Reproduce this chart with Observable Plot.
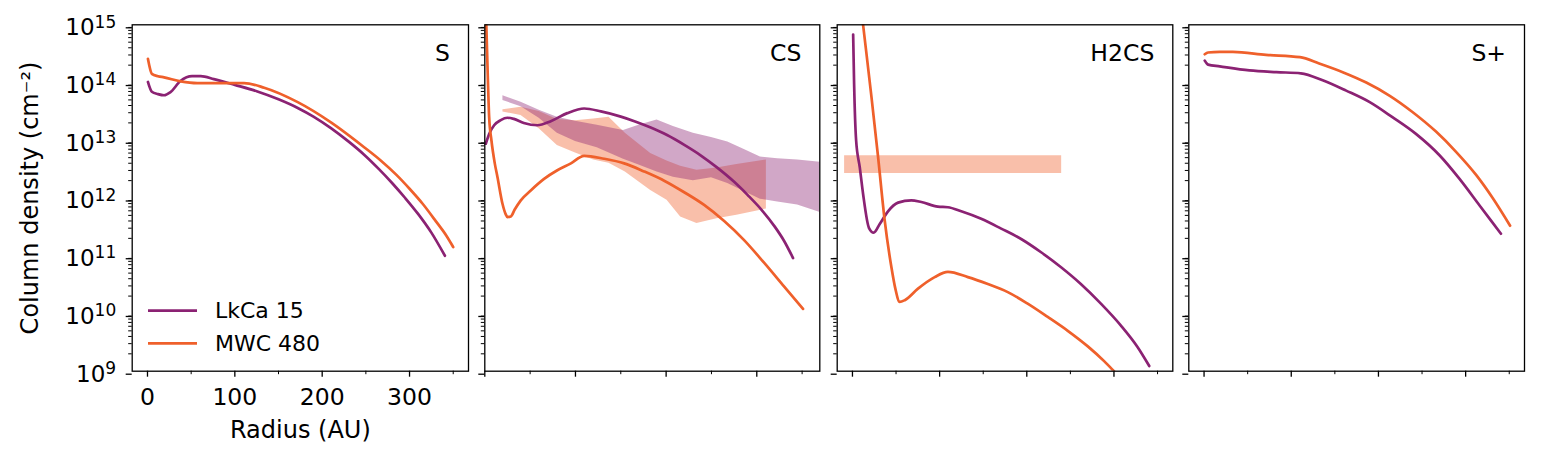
<!DOCTYPE html>
<html>
<head>
<meta charset="utf-8">
<script src="https://cdn.jsdelivr.net/npm/d3@7"></script>
<script src="https://cdn.jsdelivr.net/npm/@observablehq/plot@0.6"></script>
<style>
  html, body { margin: 0; padding: 0; background: #fff; }
  #fig { position: relative; width: 1547px; height: 458px; font-family: "DejaVu Sans", sans-serif; color: #000; }
  #fig > svg { position: absolute; top: 0; overflow: visible; }
</style>
</head>
<body>
<div id="fig"></div>
<script>
// Column densities are stored as log10(N / cm^-2) against radius in AU.
const LKCA = "LkCa 15";
const MWC = "MWC 480";
const sourceColor = { [LKCA]: "#8b2273", [MWC]: "#ef602b" };

// --- S ---
const sLkcaR    = [0.5, 5, 12, 19, 26, 38, 51, 61, 76, 100, 125, 150, 172, 190, 210, 230, 248, 265, 280, 295, 310, 325, 340.5];
const sLkcaLogN = [14.01, 13.84, 13.80, 13.78, 13.83, 14.03, 14.11, 14.11, 14.06, 13.96, 13.85, 13.71, 13.56, 13.41, 13.21, 12.98, 12.75, 12.50, 12.26, 12.00, 11.72, 11.40, 11.0];
const sMwcR     = [0.5, 2, 5, 12, 19, 38, 57, 80, 110.6, 133.6, 172, 210, 248, 267, 285, 300, 315, 330, 342, 350];
const sMwcLogN  = [14.41, 14.30, 14.15, 14.11, 14.09, 14.02, 13.99, 13.99, 13.99, 13.91, 13.66, 13.31, 12.88, 12.65, 12.40, 12.16, 11.90, 11.60, 11.35, 11.15];

// --- CS ---
const csLkcaR    = [1.1, 4.8, 10.3, 17.6, 25, 32, 43, 58, 72.8, 91, 109.6, 128, 150, 165, 183, 201, 220, 238, 256, 275, 290, 305, 320, 330, 340];
const csLkcaLogN = [12.94, 13.11, 13.26, 13.35, 13.39, 13.37, 13.30, 13.26, 13.33, 13.47, 13.55, 13.50, 13.41, 13.33, 13.22, 13.09, 12.92, 12.74, 12.53, 12.28, 12.05, 11.80, 11.50, 11.26, 10.96];
const csMwcR     = [1.0, 1.8, 3, 4.8, 7.3, 11, 14, 19.5, 23, 25, 28.7, 33, 39.7, 50.7, 65.4, 80, 95, 109.6, 131.6, 153.7, 175.7, 197.8, 219.9, 241.9, 264, 286, 308, 330, 351];
const csMwcLogN  = [15.3, 14.93, 14.27, 13.4, 13.0, 12.6, 12.36, 11.9, 11.72, 11.67, 11.68, 11.8, 11.96, 12.13, 12.33, 12.48, 12.6, 12.73, 12.68, 12.6, 12.46, 12.3, 12.1, 11.88, 11.6, 11.27, 10.88, 10.47, 10.08];

// CS observed ranges
const csLkcaBandR  = [20, 40, 60, 80, 100, 124, 153, 170, 190, 208, 230, 250, 268, 285, 304, 323, 345, 370];
const csLkcaBandHi = [13.77, 13.66, 13.52, 13.40, 13.33, 13.26, 13.17, 13.26, 13.35, 13.24, 13.12, 13.05, 12.97, 12.85, 12.71, 12.68, 12.66, 12.62];
const csLkcaBandLo = [13.69, 13.58, 13.38, 13.12, 12.98, 12.87, 12.67, 12.57, 12.45, 12.36, 12.30, 12.35, 12.25, 12.12, 11.98, 11.93, 11.88, 11.75];
const csMwcBandR   = [20, 40, 60, 80, 100, 120, 137, 155, 183, 201, 216, 234, 256, 278, 310.6];
const csMwcBandHi  = [13.53, 13.57, 13.50, 13.36, 13.34, 13.37, 13.40, 13.12, 12.77, 12.64, 12.55, 12.48, 12.52, 12.58, 12.66];
const csMwcBandLo  = [13.49, 13.43, 13.20, 12.91, 12.78, 12.66, 12.60, 12.45, 12.13, 11.96, 11.67, 11.56, 11.64, 11.70, 11.81];

// --- H2CS ---
const h2csLkcaR    = [0.8, 1.9, 4.2, 8.4, 12.2, 19, 24.4, 31.3, 40.8, 52.3, 67.6, 79, 98, 109.5, 124.8, 147.7, 170.6, 193.5, 216.4, 239.3, 262, 285, 308, 327, 340.5];
const h2csLkcaLogN = [14.83, 13.98, 13.0, 12.53, 12.07, 11.48, 11.4, 11.55, 11.77, 11.92, 11.96, 11.93, 11.85, 11.84, 11.77, 11.64, 11.47, 11.29, 11.06, 10.8, 10.51, 10.17, 9.79, 9.42, 9.09];
const h2csMwcR     = [0.8, 12.2, 21.8, 29.4, 37, 44.7, 49.2, 54.2, 60, 75.2, 94.3, 109.5, 132.4, 155.3, 178.2, 201, 224, 247, 270, 289, 300, 320];
const h2csMwcLogN  = [16.5, 15.0, 13.75, 12.71, 11.61, 10.8, 10.43, 10.2, 10.23, 10.43, 10.63, 10.72, 10.63, 10.51, 10.37, 10.17, 9.94, 9.70, 9.43, 9.17, 9.0, 8.68];
const h2csMwcBandR  = [-9, 240];
const h2csMwcBandHi = [12.73, 12.73];
const h2csMwcBandLo = [12.425, 12.425];

// --- S+ ---
const spLkcaR    = [0.8, 4.6, 18, 52, 83, 111, 136, 163, 190, 216, 243, 270, 293, 316, 340.5];
const spLkcaLogN = [14.38, 14.31, 14.28, 14.21, 14.18, 14.16, 14.04, 13.86, 13.66, 13.4, 13.11, 12.74, 12.33, 11.87, 11.38];
const spMwcR     = [0.8, 4.6, 18, 33, 71, 110, 132, 159, 186, 213, 239, 266, 289, 312, 331, 351];
const spMwcLogN  = [14.49, 14.52, 14.53, 14.53, 14.48, 14.44, 14.33, 14.18, 14.0, 13.77, 13.49, 13.15, 12.8, 12.4, 12.0, 11.52];

// Axis ticks
const xMajorTicks = [0, 100, 200, 300];
const xMinorTicks = [50, 150, 250, 350];
const yExponents = [9, 10, 11, 12, 13, 14, 15];
const yMinorFactors = [2, 3, 4, 5, 6, 7, 8, 9];

const profile = (r, logN, source) => r.map((x, i) => ({ r: x, n: 10 ** logN[i], source }));
const range = (r, lo, hi, source) => r.map((x, i) => ({ r: x, lo: 10 ** lo[i], hi: 10 ** hi[i], source }));

const yMajor = yExponents.map(e => 10 ** e);
const yMinor = yExponents.slice(0, -1).flatMap(e => yMinorFactors.map(k => k * 10 ** e));

const SUP = "⁰¹²³⁴⁵⁶⁷⁸⁹";
const sup = e => String(e).split("").map(c => SUP[+c]).join("");

const panels = [
  { name: "S", left: 0, width: 476, mL: 131.7, mR: 8, xDomain: [-17.5, 367.5], labels: true,
    bands: [], lines: [profile(sLkcaR, sLkcaLogN, LKCA), profile(sMwcR, sMwcLogN, MWC)] },
  { name: "CS", left: 476, width: 352, mL: 8.3, mR: 8.7, xDomain: [0, 369.5], labels: false,
    bands: [range(csMwcBandR, csMwcBandLo, csMwcBandHi, MWC), range(csLkcaBandR, csLkcaBandLo, csLkcaBandHi, LKCA)],
    lines: [profile(csLkcaR, csLkcaLogN, LKCA), profile(csMwcR, csMwcLogN, MWC)] },
  { name: "H2CS", left: 828, width: 352, mL: 8.7, mR: 7.7, xDomain: [-17.5, 367.5], labels: false,
    bands: [range(h2csMwcBandR, h2csMwcBandLo, h2csMwcBandHi, MWC)],
    lines: [profile(h2csLkcaR, h2csLkcaLogN, LKCA), profile(h2csMwcR, h2csMwcLogN, MWC)] },
  { name: "S+", left: 1180, width: 367, mL: 8.3, mR: 23, xDomain: [-17.5, 367.5], labels: false,
    bands: [], lines: [profile(spLkcaR, spLkcaLogN, LKCA), profile(spMwcR, spMwcLogN, MWC)] }
];

const fig = document.getElementById("fig");

for (const p of panels) {
  const marks = [];
  for (const b of p.bands) {
    marks.push(Plot.areaY(b, { x: "r", y1: "lo", y2: "hi", fill: sourceColor[b[0].source], fillOpacity: 0.4, clip: true }));
  }
  for (const l of p.lines) {
    marks.push(Plot.line(l, { x: "r", y: "n", stroke: sourceColor[l[0].source], strokeWidth: 2.7, curve: "monotone-x", clip: true }));
  }
  marks.push(
    Plot.axisY({ ticks: yMinor, tickSize: 3.5, strokeWidth: 1, fill: "none", label: null }),
    Plot.axisY({ ticks: yMajor, tickSize: 6, strokeWidth: 1.3, tickPadding: 10, dy: 3, label: null,
                 fill: p.labels ? "black" : "none", fontSize: 23,
                 tickFormat: d => "10" + sup(Math.round(Math.log10(d))) }),
    Plot.axisX({ ticks: xMinorTicks, tickSize: 3.5, strokeWidth: 1, fill: "none", label: null }),
    Plot.axisX({ ticks: xMajorTicks, tickSize: 6, strokeWidth: 1.3, tickPadding: 11, label: null,
                 fill: p.labels ? "black" : "none", fontSize: 23.5, tickFormat: d3.format("d") }),
    Plot.frame({ stroke: "black", strokeWidth: 1.3 }),
    Plot.text([p.name], { frameAnchor: "top-right", dx: -18.5, dy: 20, textAnchor: "end", lineAnchor: "top", fontSize: 23.5, fill: "black" })
  );
  if (p.labels) {
    marks.push(
      Plot.text(["Radius (AU)"], { frameAnchor: "bottom", dy: 50, lineAnchor: "top", fontSize: 24, fill: "black" }),
      Plot.text(["Column density (cm⁻²)"], { frameAnchor: "left", dx: -101.7, rotate: -90, textAnchor: "middle", lineAnchor: "middle", fontSize: 24, fill: "black" })
    );
  }
  const svg = Plot.plot({
    width: p.width,
    height: 458,
    marginLeft: p.mL,
    marginRight: p.mR,
    marginTop: 24.3,
    marginBottom: 87.3,
    style: { fontFamily: "DejaVu Sans", fontSize: "23px", background: "none", overflow: "visible", color: "black" },
    x: { domain: p.xDomain },
    y: { type: "log", domain: [1e9, 1e15] },
    marks
  });
  svg.style.left = p.left + "px";
  fig.appendChild(svg);

  // Typeset the power-of-ten labels with a raised, smaller exponent.
  svg.querySelectorAll('g[aria-label="y-axis tick label"] text').forEach(t => {
    const s = t.textContent;
    if (!s.startsWith("10")) return;
    const exp = s.slice(2).split("").map(c => SUP.indexOf(c)).join("");
    t.textContent = "10";
    const ts = document.createElementNS("http://www.w3.org/2000/svg", "tspan");
    ts.setAttribute("dy", "-7.6");
    ts.setAttribute("font-size", "17");
    ts.textContent = exp;
    t.appendChild(ts);
  });
}

// Legend in the lower left of the first panel
const legendItems = [LKCA, MWC];
const legend = d3.create("svg").attr("width", 1547).attr("height", 458).style("left", "0px").style("pointer-events", "none");
legendItems.forEach((name, i) => {
  const yc = 310.7 + i * 32.6;
  legend.append("line").attr("x1", 148).attr("x2", 197).attr("y1", yc).attr("y2", yc)
    .attr("stroke", sourceColor[name]).attr("stroke-width", 2.7);
  legend.append("text").attr("x", 215).attr("y", yc + 7.5).attr("font-family", "DejaVu Sans")
    .attr("font-size", 22).attr("fill", "black").text(name);
});
fig.appendChild(legend.node());
</script>
</body>
</html>
